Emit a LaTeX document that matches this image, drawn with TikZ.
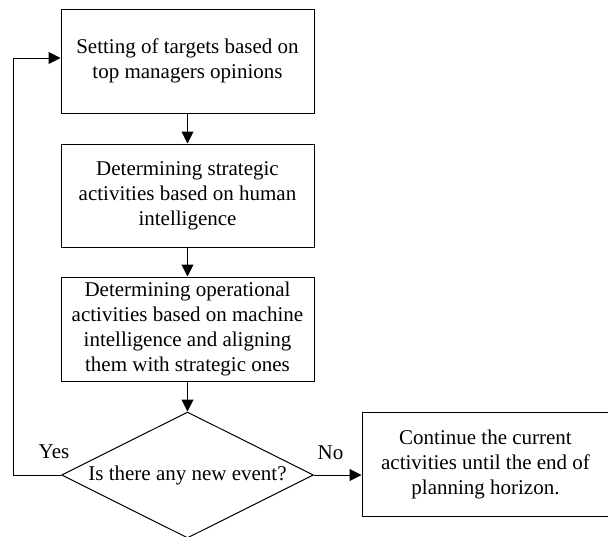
\documentclass[tikz,border=0pt]{standalone}
\usepackage{fontspec}
\setmainfont{Liberation Serif}
\usetikzlibrary{shapes.geometric,arrows.meta}
\begin{document}
\begin{tikzpicture}[x=1pt,y=-1pt,
  every node/.style={font=\fontsize{21}{25}\selectfont},
  stepbox/.style={draw, line width=1pt, rectangle, inner sep=0pt, align=center, minimum width=253pt},
  decide/.style={draw, line width=1pt, diamond, inner sep=0pt, minimum width=252pt, minimum height=126pt, shape aspect=2},
  conn/.style={line width=1pt, -{Triangle[length=12pt,width=12pt]}},
  lbl/.style={inner sep=0pt}]
\useasboundingbox (0,0) rectangle (608,536);
\node[stepbox, minimum height=104pt] (b1) at (187.5,61) {Setting of targets based on\\top managers opinions};
\node[stepbox, minimum height=103pt] (b2) at (187.5,195.5) {Determining strategic\\activities based on human\\intelligence};
\node[stepbox, minimum height=104pt] (b3) at (187.5,329) {Determining operational\\activities based on machine\\intelligence and aligning\\them with strategic ones};
\node[decide] (d) at (187.5,475) {Is there any new event?};
\node[stepbox, minimum width=247pt, minimum height=104pt] (r) at (485.5,464) {Continue the current\\activities until the end of\\planning horizon.};
\node[lbl] (yes) at (54,452) {Yes};
\node[lbl] (no) at (330.5,453) {No};
\coordinate (lc) at (13,58);
\draw[conn] (b1) -- (b2);
\draw[conn] (b2) -- (b3);
\draw[conn] (b3) -- (d);
\draw[conn] (d.east) -- (d.east -| r.west);
\draw[conn] (d.west) -| (lc) -- (lc -| b1.west);
\end{tikzpicture}
\end{document}
